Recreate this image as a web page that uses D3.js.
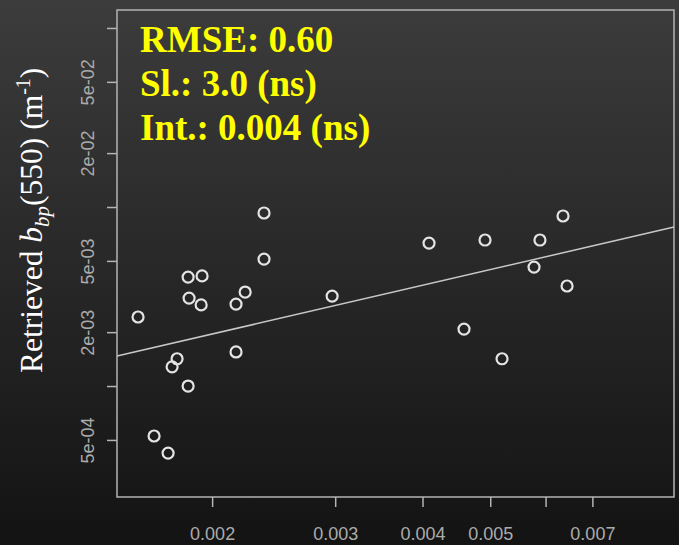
<!DOCTYPE html>
<html lang="en">
<head>
    <meta charset="UTF-8">
    <title>Retrieved bbp(550) scatter</title>
    <script src="https://d3js.org/d3.v7.min.js"></script>
    <style>
        html, body {
            margin: 0;
            padding: 0;
            background: #131313;
        }
        .box {
            fill: none;
            stroke: #b4b4b4;
            stroke-width: 1.5;
        }
        .axis path {
            display: none;
        }
        .axis line {
            stroke: #b4b4b4;
            stroke-width: 1.5;
        }
        .axis text {
            fill: #ababab;
            font-family: "Liberation Sans", Arial, sans-serif;
            font-size: 18px;
        }
        .fit {
            stroke: #c8c8c8;
            stroke-width: 1.5;
            fill: none;
        }
        .pt {
            fill: none;
            stroke: #e4e4e4;
            stroke-width: 2.2;
        }
        .stats {
            fill: #ffff00;
            font-family: "Liberation Serif", "Times New Roman", serif;
            font-weight: bold;
            font-size: 37px;
        }
        .ytitle {
            fill: #ffffff;
            font-family: "Liberation Serif", "Times New Roman", serif;
            font-size: 31.5px;
        }
    </style>
</head>
<body>
<div id="chart"></div>
<script>
    var xVals = [0.001567, 0.001652, 0.001730, 0.001753, 0.001782, 0.001848, 0.001848, 0.001935,
                 0.001854, 0.001929, 0.002164, 0.002230, 0.002164, 0.002970, 0.002373, 0.002373,
                 0.004087, 0.004915, 0.005890, 0.006355, 0.005776, 0.006440, 0.004586, 0.005198];
    var yVals = [0.00243, 0.000526, 0.000422, 0.00128, 0.00142, 0.00100, 0.00406, 0.00412,
                 0.00310, 0.00284, 0.00287, 0.00335, 0.00155, 0.00318, 0.00926, 0.00512,
                 0.00629, 0.00654, 0.00654, 0.00891, 0.00462, 0.00362, 0.00208, 0.00142];

    // fitted line in log10 space: log y = a + b log x
    var fitIntercept = -0.2696;
    var fitSlope = 0.904;

    var statLines = ["RMSE: 0.60", "Sl.: 3.0 (ns)", "Int.: 0.004 (ns)"];

    var xTicks = [0.002, 0.003, 0.004, 0.005, 0.006, 0.007];
    var xTickLabels = ["0.002", "0.003", "0.004", "0.005", "", "0.007"];
    var yTicks = [0.0005, 0.001, 0.002, 0.005, 0.01, 0.02, 0.05, 0.1];
    var yTickLabels = ["5e-04", "", "2e-03", "5e-03", "", "2e-02", "5e-02", ""];

    var W = 679, H = 545;
    var box = {left: 117, right: 674, top: 10, bottom: 497};

    var svg = d3.select("#chart").append("svg")
        .attr("width", W)
        .attr("height", H)
        .style("display", "block");

    // background gradient
    var grad = svg.append("defs").append("linearGradient")
        .attr("id", "bg")
        .attr("x1", 0).attr("y1", 0).attr("x2", 0).attr("y2", 1);
    grad.append("stop").attr("offset", "0%").attr("stop-color", "#3c3c3c");
    grad.append("stop").attr("offset", "100%").attr("stop-color", "#131313");
    svg.append("rect")
        .attr("width", W)
        .attr("height", H)
        .attr("fill", "url(#bg)");

    var x = d3.scaleLog().domain([0.001462, 0.00916]).range([box.left, box.right]);
    var y = d3.scaleLog().domain([0.00024, 0.126]).range([box.bottom, box.top]);

    // axes
    var xAxis = d3.axisBottom(x)
        .tickValues(xTicks)
        .tickSize(10)
        .tickPadding(20)
        .tickFormat(function(d, i) { return xTickLabels[i]; });
    svg.append("g")
        .attr("class", "axis")
        .attr("transform", "translate(0," + box.bottom + ")")
        .call(xAxis);

    var yAxis = d3.axisLeft(y)
        .tickValues(yTicks)
        .tickSize(10)
        .tickFormat(function(d, i) { return yTickLabels[i]; });
    var gy = svg.append("g")
        .attr("class", "axis")
        .attr("transform", "translate(" + box.left + ",0)")
        .call(yAxis);
    // R style: labels run parallel to the axis
    gy.selectAll(".tick text")
        .attr("x", 0)
        .attr("y", 0)
        .attr("dy", 0)
        .attr("text-anchor", "middle")
        .attr("transform", "translate(-23,0) rotate(-90)");

    // box
    svg.append("rect")
        .attr("class", "box")
        .attr("x", box.left)
        .attr("y", box.top)
        .attr("width", box.right - box.left)
        .attr("height", box.bottom - box.top);

    // fit line across the x domain
    var fitPts = x.domain().map(function(v) {
        return [v, Math.pow(10, fitIntercept + fitSlope * Math.log10(v))];
    });
    svg.append("line")
        .attr("class", "fit")
        .attr("x1", x(fitPts[0][0]))
        .attr("y1", y(fitPts[0][1]))
        .attr("x2", x(fitPts[1][0]))
        .attr("y2", y(fitPts[1][1]));

    // points
    svg.selectAll(".pt")
        .data(xVals.map(function(v, i) { return {x: v, y: yVals[i]}; }))
        .enter().append("circle")
        .attr("class", "pt")
        .attr("cx", function(d) { return x(d.x); })
        .attr("cy", function(d) { return y(d.y); })
        .attr("r", 5.5);

    // statistics
    svg.selectAll(".stats")
        .data(statLines)
        .enter().append("text")
        .attr("class", "stats")
        .attr("x", 140)
        .attr("y", function(d, i) { return 52 + i * 44; })
        .text(function(d) { return d; });

    // y title
    var yt = svg.append("text")
        .attr("class", "ytitle")
        .attr("transform", "translate(42,373) rotate(-90)");
    yt.append("tspan").text("Retrieved ");
    yt.append("tspan").style("font-style", "italic").text("b");
    yt.append("tspan").style("font-style", "italic").style("font-size", "21px")
        .attr("dy", 7).text("bp");
    yt.append("tspan").attr("dy", -7).text("(550) (m");
    yt.append("tspan").style("font-size", "20px").attr("dy", -12).text("-1");
    yt.append("tspan").attr("dy", 12).text(")");
</script>
</body>
</html>
